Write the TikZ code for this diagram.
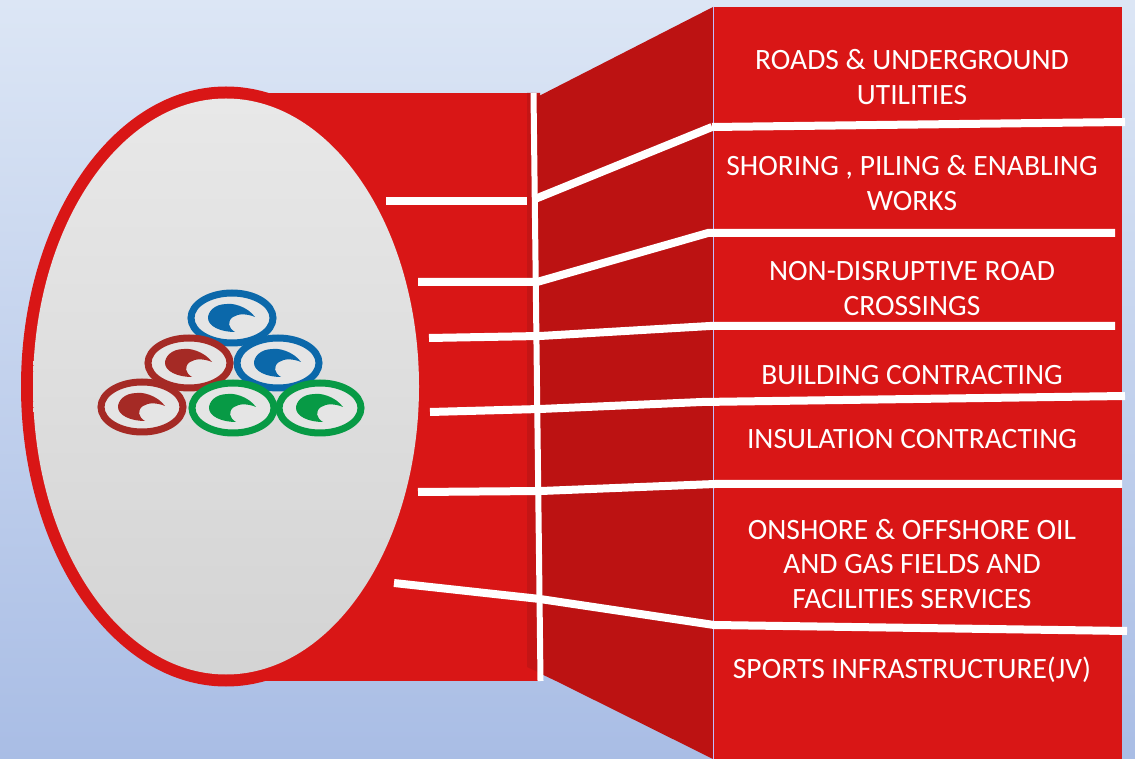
\documentclass[tikz,border=0pt]{standalone}
\usepackage{fontspec}
\setmainfont{Carlito}
\definecolor{sheetred}{HTML}{D91616}
\definecolor{wallred}{HTML}{BC1212}
\definecolor{stripred}{HTML}{C41515}
\definecolor{ringblue}{HTML}{0B68AA}
\definecolor{ringred}{HTML}{A52A25}
\definecolor{ringgreen}{HTML}{079A45}
\definecolor{skytop}{HTML}{DCE6F5}
\definecolor{skybottom}{HTML}{A9BDE5}
\tikzset{
  % white bars between the services
  spoke/.style={draw=white,line width=0.16cm},
  % captions on the right hand panel
  service/.style={text=white,align=center,font=\fontsize{16.8}{19.9}\selectfont},
}
\begin{document}
\begin{tikzpicture}[x=0.02cm,y=-0.02cm]
\useasboundingbox (0,0) rectangle (1135,759);
\fill [top color=skytop,bottom color=skybottom] (0,0) rectangle (1135,759);
% the walls behind the disc
\fill [sheetred] (226,93) rectangle (540,681);
\fill [stripred] (527,93) -- (540,93) -- (540,673) -- (527,667) -- cycle;
\fill [wallred] (537,97) -- (713,7) -- (713,759) -- (556,681) -- (537,672) -- cycle;
\fill [sheetred] (713,7) rectangle (1122,759);
\draw [white!75!blue,line width=0.02cm] (713,7) -- (713,759);
% the disc
\fill [sheetred] (226,386.5) ellipse [x radius=205,y radius=300];
\shade [top color=black!9,bottom color=black!17] (226,386.5) ellipse [x radius=193,y radius=288];
% the rings of the logo
\foreach \ringx/\ringy/\ringcol in {232/318/ringblue,278/363/ringblue,189/363/ringred,142/407/ringred,320/408/ringgreen,233/408/ringgreen}{
  \begin{scope}[shift={(\ringx,\ringy)}]
    \draw [\ringcol,fill=black!10,line width=0.14cm] (0,0) ellipse [x radius=41,y radius=25];
    \fill [\ringcol] (23,-1) .. controls (15,-12) and (0,-15) .. (-5,-14)
      .. controls (-18,-14) and (-24,-6) .. (-24,0)
      .. controls (-24,8) and (-12,14) .. (3,14)
      .. controls (-4,10) and (-5,3) .. (1,-1)
      .. controls (7,-5) and (16,-4) .. (23,-1) -- cycle;
  \end{scope}
}
% the bars
\coordinate (S1) at (533.5,93);
\coordinate (S2) at (540.5,681);
\coordinate (A1) at (386,201);
\coordinate (A2) at (527,201);
\coordinate (A3) at (535,199);
\coordinate (A4) at (712,127);
\coordinate (A5) at (1125,122);
\coordinate (B1) at (418,282);
\coordinate (B2) at (537,282);
\coordinate (B3) at (708,233);
\coordinate (B4) at (1115,233);
\coordinate (C1) at (429,338);
\coordinate (C2) at (540,336);
\coordinate (C3) at (710,326);
\coordinate (C4) at (1115,326);
\coordinate (D1) at (430,412);
\coordinate (D2) at (540,409);
\coordinate (D3) at (702,402);
\coordinate (D4) at (1125,396);
\coordinate (E1) at (418,492);
\coordinate (E2) at (541,491);
\coordinate (E3) at (715,484);
\coordinate (E4) at (1122,484);
\coordinate (F1) at (394,583);
\coordinate (F2) at (540,599);
\coordinate (F3) at (714,625);
\coordinate (F4) at (1127,631);
\draw [spoke,line width=0.12cm] (S1)--(S2);
\draw [spoke] (A1)--(A2);
\draw [spoke] (A3)--(A4);
\draw [spoke] (A4)--(A5);
\draw [spoke] (B1)--(B2)--(B3)--(B4);
\draw [spoke] (C1)--(C2)--(C3)--(C4);
\draw [spoke] (D1)--(D2)--(D3)--(D4);
\draw [spoke] (E1)--(E2)--(E3)--(E4);
\draw [spoke] (F1)--(F2)--(F3)--(F4);
% the captions
\node [service] (roads) at (912,77.5) {ROADS \& UNDERGROUND\\UTILITIES};
\node [service] (shoring) at (912,183.5) {SHORING , PILING \& ENABLING\\WORKS};
\node [service] (crossings) at (912,288.5) {NON-DISRUPTIVE ROAD\\CROSSINGS};
\node [service] (building) at (912,375) {BUILDING CONTRACTING};
\node [service] (insulation) at (912,439) {INSULATION CONTRACTING};
\node [service] (oilgas) at (912,564) {ONSHORE \& OFFSHORE OIL\\AND GAS FIELDS AND\\FACILITIES SERVICES};
\node [service] (sports) at (912,670) {SPORTS INFRASTRUCTURE(JV)};
\end{tikzpicture}
\end{document}
